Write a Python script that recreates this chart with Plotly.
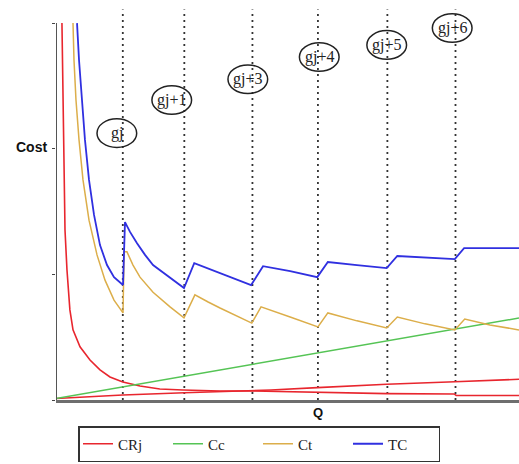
import plotly.graph_objects as go

# ---------------- data ----------------
# Q in arbitrary units (axis 0..7), cost in arbitrary units (0..100 = axis height)
breakpoints = [1.01, 1.94, 2.97, 3.96, 5.01, 6.04]
bp_labels = ["gj", "gj+1", "gj+3", "gj+4", "gj+5", "gj+6"]
label_q = [0.92, 1.75, 2.90, 3.98, 5.00, 5.99]
label_c = [70.8, 79.6, 85.1, 91.0, 94.2, 98.7]

crj_q = [0.09, 0.106, 0.121, 0.136, 0.166, 0.21, 0.257, 0.363, 0.514, 0.665, 0.816,
         1.01, 1.27, 1.57, 1.92, 2.48, 2.98, 3.95, 5.0, 6.02, 6.05, 7.0]
crj_c = [100, 82.2, 61.0, 45.1, 34.5, 23.9, 18.6, 14.1, 10.6, 8.0, 6.1,
         4.8, 3.7, 2.9, 2.65, 2.4, 2.4, 2.0, 1.7, 1.6, 1.2, 1.2]

cr2_q = [0.0, 1.01, 1.94, 3.25, 3.95, 5.0, 6.03, 7.0]
cr2_c = [0.4, 1.33, 1.94, 2.65, 3.27, 4.17, 4.85, 5.49]

cc_q = [0.0, 7.0]
cc_c = [0.4, 21.75]

ct_q = [0.257, 0.272, 0.302, 0.348, 0.408, 0.499, 0.620, 0.741, 0.877, 1.013,
        1.03, 1.073, 1.164, 1.270, 1.467, 1.724, 1.935,
        2.10, 2.30, 2.48, 2.96, 3.10, 3.54, 3.96, 4.11, 4.55, 5.0, 5.16, 5.58,
        6.03, 6.18, 6.56, 7.0]
ct_c = [100, 90.2, 79.6, 69.0, 58.4, 47.7, 38.5, 31.8, 26.5, 23.1,
        39.3, 39.3, 35.8, 32.6, 28.6, 24.7, 21.8,
        27.9, 26.0, 24.4, 20.4, 24.7, 22.0, 19.4, 23.1, 21.0, 19.1, 22.0, 20.2,
        18.6, 21.5, 19.9, 18.6]

tc_q = [0.318, 0.348, 0.393, 0.438, 0.499, 0.575, 0.665, 0.771, 0.877, 1.013,
        1.043, 1.119, 1.225, 1.346, 1.467, 1.603, 1.724, 1.935,
        2.09, 2.48, 2.95, 3.13, 3.54, 3.95, 4.11, 4.55, 5.0, 5.16, 5.58, 6.03,
        6.17, 7.0]
tc_c = [100, 90.2, 79.6, 69.0, 58.4, 49.1, 41.1, 35.8, 32.6, 30.5,
        47.2, 44.6, 41.6, 38.5, 35.8, 34.0, 32.6, 29.7,
        36.3, 33.7, 30.5, 35.5, 34.2, 32.6, 36.6, 35.8, 35.0, 38.2, 37.9, 37.4,
        40.3, 40.3]

# ---------------- figure ----------------
RED = "#e8262e"
GREEN = "#55c455"
GOLD = "#dcae4a"
BLUE = "#3030e0"

fig = go.Figure()
fig.add_trace(go.Scatter(x=crj_q, y=crj_c, mode="lines", name="CRj",
                         line=dict(color=RED, width=1.6), legendgroup="crj"))
fig.add_trace(go.Scatter(x=cr2_q, y=cr2_c, mode="lines", name="CRj",
                         line=dict(color=RED, width=1.6), legendgroup="crj",
                         showlegend=False))
fig.add_trace(go.Scatter(x=cc_q, y=cc_c, mode="lines", name="Cc",
                         line=dict(color=GREEN, width=1.4)))
fig.add_trace(go.Scatter(x=ct_q, y=ct_c, mode="lines", name="Ct",
                         line=dict(color=GOLD, width=1.5)))
fig.add_trace(go.Scatter(x=tc_q, y=tc_c, mode="lines", name="TC",
                         line=dict(color=BLUE, width=1.8)))

shapes = []
# dotted vertical lines at breakpoints
for b in breakpoints:
    shapes.append(dict(type="line", xref="x", yref="y", x0=b, x1=b, y0=0, y1=103.6,
                       line=dict(color="#333333", width=1.8, dash="2px,4px"),
                       layer="below"))
# y axis line (only up to 100)
shapes.append(dict(type="line", xref="x", yref="y", x0=0, x1=0, y0=0, y1=100,
                   line=dict(color="#555555", width=2)))
# ellipses around labels
annotations = []
for lab, q, c in zip(bp_labels, label_q, label_c):
    shapes.append(dict(type="circle", xref="x", yref="y",
                       x0=q - 0.30, x1=q + 0.30, y0=c - 3.8, y1=c + 3.8,
                       line=dict(color="#222222", width=1.5)))
    annotations.append(dict(x=q, y=c, xref="x", yref="y", text=lab, showarrow=False,
                            font=dict(family="Liberation Serif", size=16, color="#222222")))

annotations.append(dict(x=0, y=67.0, xref="paper", yref="y", xanchor="right", xshift=-7,
                        text="<b>Cost</b>", showarrow=False,
                        font=dict(family="Liberation Sans", size=14, color="#111111")))
annotations.append(dict(x=3.96, y=0, xref="x", yref="y", yanchor="top", yshift=-3,
                        text="<b>Q</b>", showarrow=False,
                        font=dict(family="Liberation Sans", size=13, color="#111111")))

fig.update_layout(
    width=519, height=464,
    margin=dict(l=56, r=0, t=8, b=64),
    paper_bgcolor="white", plot_bgcolor="white",
    shapes=shapes, annotations=annotations,
    xaxis=dict(range=[0, 7], showgrid=False, zeroline=False, showticklabels=False,
               ticks="", showline=True, linecolor="#6e6e6e", linewidth=2.5),
    yaxis=dict(range=[0, 104], showgrid=False, zeroline=False, showticklabels=False,
               tickvals=[0, 33.3, 66.7, 100], ticks="outside", ticklen=3,
               tickcolor="#444444", tickwidth=1.2, showline=False),
    showlegend=True,
    legend=dict(orientation="h", x=78 / 519, xanchor="left", xref="container",
                y=2 / 464, yanchor="bottom", yref="container",
                bordercolor="#333333", borderwidth=1.5, bgcolor="white",
                font=dict(family="Liberation Serif", size=15, color="#222222"),
                entrywidth=45, entrywidthmode="pixels", tracegroupgap=0),
)

fig.write_html("out.html")
